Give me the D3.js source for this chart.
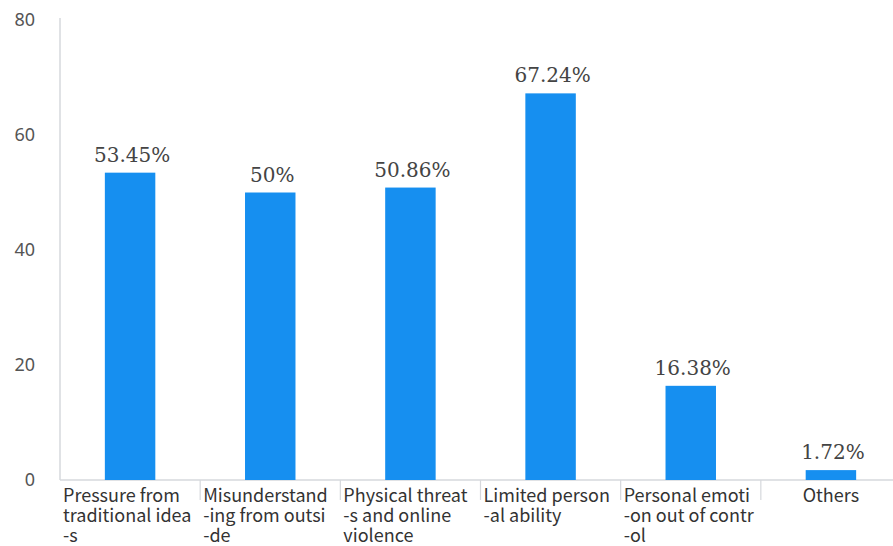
<!DOCTYPE html>
<html>
<head>
<meta charset="utf-8">
<script src="https://cdn.jsdelivr.net/npm/d3@7/dist/d3.min.js"></script>
<style>
  html, body { margin: 0; padding: 0; background: #fff; }
  svg { display: block; }
</style>
</head>
<body>
<svg id="chart" width="893" height="546"></svg>
<script>
// Reasons and their share of respondents (%)
const categories = [
  "Pressure from traditional ideas",
  "Misunderstanding from outside",
  "Physical threats and online violence",
  "Limited personal ability",
  "Personal emotion out of control",
  "Others"
];
const values = [53.45, 50, 50.86, 67.24, 16.38, 1.72];
const valueLabels = ["53.45%", "50%", "50.86%", "67.24%", "16.38%", "1.72%"];
// Category names as they wrap under the axis
const categoryLines = [
  ["Pressure from", "traditional idea", "-s"],
  ["Misunderstand", "-ing from outsi", "-de"],
  ["Physical threat", "-s and online", "violence"],
  ["Limited person", "-al ability"],
  ["Personal emoti", "-on out of contr", "-ol"],
  ["Others"]
];
const yTicks = [0, 20, 40, 60, 80];

const svg = d3.select("#chart");
const plotLeft = 60, plotRight = 901, plotTop = 20, plotBottom = 480;

const x = d3.scaleBand().domain(categories).range([plotLeft, plotRight]).padding(0);
const y = d3.scaleLinear().domain([0, 80]).range([plotBottom, plotTop]);
const barW = x.bandwidth() * 0.36;

const axisColor = "#d6d8dc";

// Value axis
const yAxis = svg.append("g")
  .attr("transform", `translate(${plotLeft},0)`)
  .call(d3.axisLeft(y).tickValues(yTicks).tickSize(0).tickPadding(25));
yAxis.select(".domain").attr("stroke", axisColor).attr("stroke-width", 1.5)
  .attr("d", `M0,${y(80) - 2}V${plotBottom}`);
yAxis.selectAll("text")
  .attr("font-family", "'Noto Sans', sans-serif")
  .attr("font-size", 18)
  .attr("fill", "#555");

// Baseline and category separators
svg.append("line")
  .attr("x1", plotLeft).attr("x2", 893)
  .attr("y1", plotBottom).attr("y2", plotBottom)
  .attr("stroke", axisColor).attr("stroke-width", 1.5);
svg.append("g").selectAll("line")
  .data(categories.slice(1))
  .join("line")
  .attr("x1", d => x(d)).attr("x2", d => x(d))
  .attr("y1", plotBottom).attr("y2", plotBottom + 20)
  .attr("stroke", axisColor).attr("stroke-width", 1.2);

// Bars
svg.append("g").selectAll("rect")
  .data(categories)
  .join("rect")
  .attr("x", d => x(d) + (x.bandwidth() - barW) / 2)
  .attr("width", barW)
  .attr("y", (d, i) => y(values[i]))
  .attr("height", (d, i) => plotBottom - y(values[i]))
  .attr("fill", "#168ff0");

// Value labels
svg.append("g").selectAll("text")
  .data(categories)
  .join("text")
  .attr("x", d => x(d) + x.bandwidth() / 2 + 2)
  .attr("y", (d, i) => y(values[i]) - 11)
  .attr("text-anchor", "middle")
  .attr("font-family", "'DejaVu Serif', serif")
  .attr("font-size", 20)
  .attr("fill", "#444")
  .text((d, i) => valueLabels[i]);

// Category labels
const labelGroups = svg.append("g").selectAll("text")
  .data(categories)
  .join("text")
  .attr("font-family", "'Noto Sans CJK SC', 'Noto Sans', sans-serif")
  .attr("font-size", 18)
  .attr("fill", "#333")
  .attr("text-anchor", (d, i) => categoryLines[i].length === 1 ? "middle" : "start");
labelGroups.selectAll("tspan")
  .data((d, i) => categoryLines[i].map(line => ({ line, cat: d, single: categoryLines[i].length === 1 })))
  .join("tspan")
  .attr("x", d => d.single ? x(d.cat) + x.bandwidth() / 2 : x(d.cat) + 3)
  .attr("y", (d, j) => 502 + j * 20)
  .text(d => d.line);
</script>
</body>
</html>
